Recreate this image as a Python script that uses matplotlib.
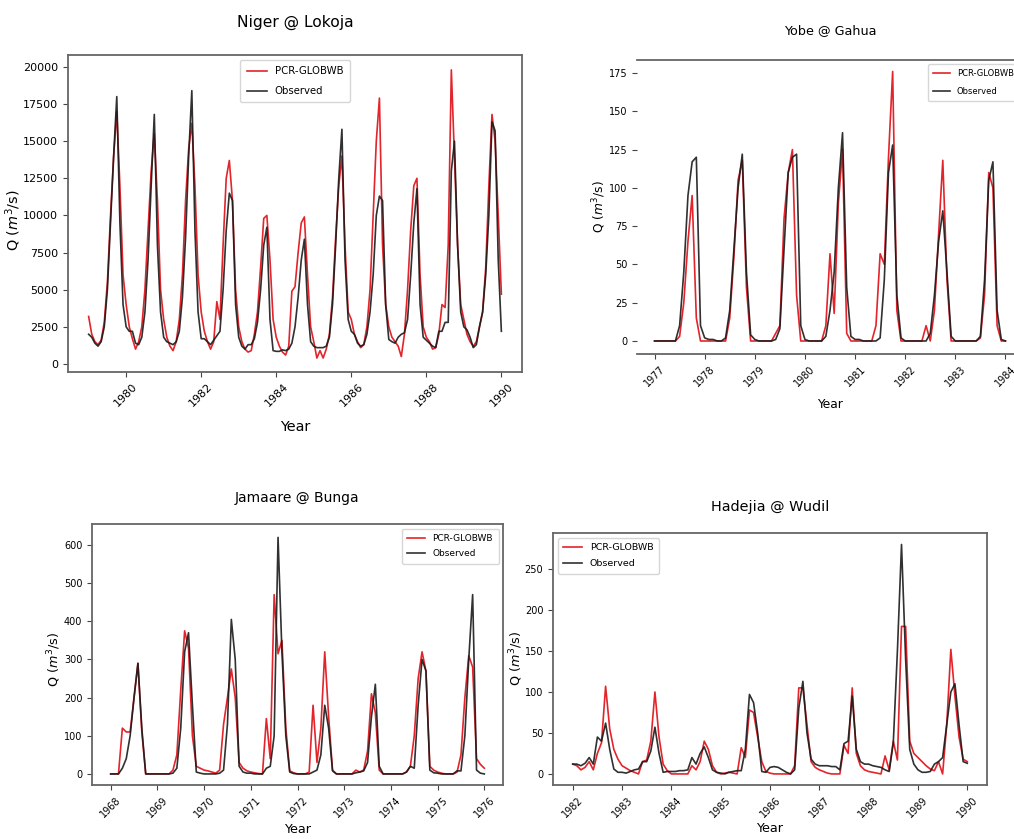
import numpy as np
import matplotlib
matplotlib.use('Agg')
import matplotlib.pyplot as plt
from matplotlib import font_manager

# monthly discharge, one row per year (Jan..Dec)
niger_start = 1979
niger_obs = [2000, 1800, 1400, 1200, 1500, 2500, 5000, 9500, 14000, 18000, 9500, 4000,
             2500, 2200, 2200, 1400, 1300, 1800, 3500, 7000, 12000, 16800, 8000, 3500,
             1800, 1500, 1400, 1300, 1500, 2200, 4500, 8500, 14000, 18400, 9000, 3500,
             1700, 1700, 1500, 1300, 1600, 1900, 2200, 5000, 9000, 11500, 11000, 4000,
             1800, 1200, 1000, 1300, 1300, 1700, 2800, 5000, 8000, 9200, 3000, 900,
             850, 850, 950, 900, 1000, 1400, 2500, 4500, 7000, 8400, 4000, 1500,
             1200, 1100, 1100, 1100, 1200, 1800, 4000, 8000, 12500, 15800, 7000, 3000,
             2200, 2000, 1400, 1200, 1300, 2000, 3500, 6000, 10000, 11300, 11000, 4000,
             1650, 1500, 1400, 1800, 2000, 2100, 3000, 6000, 9500, 11800, 4000, 1800,
             1600, 1400, 1200, 1100, 2200, 2200, 2800, 2800, 13000, 15000, 8000, 3500,
             2500, 2300, 1800, 1100, 1300, 2500, 3500, 6000, 10000, 16300, 15700, 7000,
             2200]
niger_sim = [3200, 2000, 1500, 1300, 1600, 2800, 5500, 10000, 14000, 17000, 12000, 6000,
             4000, 2500, 1700, 1000, 1500, 2500, 5000, 9000, 13000, 15500, 11000, 5000,
             3000, 1800, 1200, 900, 1500, 3000, 6000, 11000, 14500, 16200, 12000, 6000,
             3500, 2200, 1500, 1000, 1500, 4200, 3000, 8000, 12500, 13700, 11000, 5000,
             2500, 1500, 1000, 800, 900, 2000, 3500, 6500, 9800, 10000, 7000, 3000,
             1800, 1200, 800, 600, 1200, 4900, 5200, 7500, 9500, 9900, 6000, 2500,
             1500, 400, 900, 400, 1000, 2000, 4500, 8500, 12000, 14000, 8000, 3500,
             3000, 2000, 1500, 1100, 1300, 2500, 5000, 10000, 15000, 17900, 8000, 4000,
             2500, 1800, 1500, 1200, 500, 2000, 5000, 9000, 12000, 12500, 6000, 2500,
             1800, 1500, 1000, 1100, 2000, 4000, 3800, 8000, 19800, 14000, 8000, 4000,
             3000, 2000, 1500, 1200, 1500, 2500, 3500, 6500, 12000, 16800, 15000, 10000,
             4700]

yobe_start = 1977
yobe_obs = [0, 0, 0, 0, 0, 0, 10, 45, 95, 117, 120, 10,
            2, 1, 1, 0, 0, 2, 20, 60, 100, 122, 45, 4,
            1, 0, 0, 0, 0, 1, 8, 60, 110, 120, 122, 10,
            1, 0, 0, 0, 0, 3, 20, 45, 100, 136, 35, 3,
            1, 1, 0, 0, 0, 0, 2, 40, 110, 128, 30, 2,
            0, 0, 0, 0, 0, 0, 5, 30, 65, 85, 45, 3,
            0, 0, 0, 0, 0, 0, 3, 40, 105, 117, 20, 1,
            0]
yobe_sim = [0, 0, 0, 0, 0, 0, 3, 25, 65, 95, 15, 0,
            0, 0, 0, 0, 0, 0, 15, 55, 105, 118, 35, 0,
            0, 0, 0, 0, 0, 5, 10, 80, 110, 125, 30, 0,
            0, 0, 0, 0, 0, 10, 57, 18, 90, 125, 5, 0,
            0, 0, 0, 0, 0, 10, 57, 50, 120, 176, 20, 0,
            0, 0, 0, 0, 0, 10, 0, 20, 70, 118, 40, 0,
            0, 0, 0, 0, 0, 0, 2, 30, 110, 100, 10, 0,
            0]

jamaare_start = 1968
jamaare_obs = [0, 0, 0, 15, 40, 100, 200, 290, 120, 0, 0, 0,
               0, 0, 0, 0, 2, 15, 120, 320, 370, 180, 5, 2,
               0, 0, 0, 0, 2, 10, 130, 405, 300, 20, 5, 2,
               2, 0, 0, 0, 15, 20, 100, 620, 320, 100, 5, 1,
               0, 0, 0, 0, 5, 10, 50, 180, 120, 8, 0, 0,
               0, 0, 0, 3, 5, 8, 30, 150, 235, 20, 0, 0,
               0, 0, 0, 0, 5, 20, 15, 180, 300, 270, 10, 3,
               2, 0, 0, 0, 0, 8, 8, 100, 300, 470, 10, 2,
               0]
jamaare_sim = [0, 0, 0, 120, 110, 110, 200, 290, 110, 0, 0, 0,
               0, 0, 0, 0, 10, 50, 220, 375, 330, 100, 20, 15,
               10, 8, 5, 2, 10, 130, 200, 275, 200, 30, 15, 8,
               5, 3, 1, 0, 145, 40, 470, 315, 350, 120, 8, 3,
               0, 0, 0, 5, 180, 30, 120, 320, 150, 10, 0, 0,
               0, 0, 0, 10, 5, 10, 60, 210, 160, 10, 0, 0,
               0, 0, 0, 0, 5, 20, 100, 250, 320, 270, 20, 10,
               5, 2, 0, 0, 0, 5, 50, 200, 310, 280, 40, 25,
               15]

hadejia_start = 1982
hadejia_obs = [12, 12, 10, 13, 20, 12, 45, 40, 62, 30, 6, 2,
               2, 1, 3, 5, 6, 15, 15, 28, 57, 25, 2, 3,
               3, 3, 4, 4, 5, 20, 12, 25, 33, 20, 5, 2,
               1, 0, 2, 3, 4, 4, 30, 97, 87, 50, 3, 2,
               8, 9, 8, 5, 2, 0, 5, 80, 113, 50, 18, 12,
               10, 10, 10, 9, 9, 5, 37, 40, 95, 30, 15, 12,
               12, 10, 9, 8, 5, 3, 38, 150, 280, 140, 30, 12,
               5, 2, 2, 3, 12, 15, 20, 60, 100, 110, 60, 15,
               13]
hadejia_sim = [12, 10, 5, 8, 15, 5, 25, 38, 107, 55, 30, 18,
               10, 7, 4, 2, 0, 15, 17, 40, 100, 45, 12, 4,
               0, 0, 0, 0, 0, 10, 5, 15, 40, 30, 10, 2,
               0, 1, 2, 1, 0, 32, 20, 78, 75, 45, 15, 3,
               1, 0, 0, 0, 0, 0, 10, 105, 105, 60, 15, 8,
               5, 3, 1, 0, 0, 0, 35, 25, 105, 25, 10, 5,
               3, 2, 1, 0, 22, 5, 40, 17, 180, 180, 40, 25,
               20, 15, 10, 6, 4, 15, 0, 60, 152, 95, 45, 18,
               15]

# prefer a condensed face when the system has one
fonts = font_manager.fontManager.ttflist
names = {f.name for f in fonts}
fs = 0.8
if 'DejaVu Sans Condensed' in names:
    plt.rcParams['font.family'] = ['DejaVu Sans Condensed', 'DejaVu Sans']
    fs = 0.89
else:
    plt.rcParams['font.family'] = ['DejaVu Sans']

RED = '#e3242b'
W, H = 1014, 839
fig = plt.figure(figsize=(W / 100, H / 100), dpi=100)


def px_rect(left, top, right, bottom):
    return [left / W, 1 - bottom / H, (right - left) / W, (bottom - top) / H]


def panel(rect, title, start, obs, sim, ylim, yticks, xticks, legend_loc,
          title_size, label_size, tick_size, legend_size, spacing, pad,
          xlabel_y, ylabel_x, ylabel_y=0.5, hide_left=False):
    ax = fig.add_axes(rect)
    t = start + np.arange(len(obs)) / 12
    ax.plot(t, sim, color=RED, lw=1.2, label='PCR-GLOBWB')
    ax.plot(t, obs, color='#1a1a1a', lw=1.2, alpha=0.9, label='Observed')
    ax.set_xlim(t[0] - 0.05 * (t[-1] - t[0]), t[-1] + 0.05 * (t[-1] - t[0]))
    ax.set_ylim(*ylim)
    ax.set_yticks(yticks)
    ax.set_xticks(xticks)
    ax.set_xticklabels([str(x) for x in xticks], rotation=45)
    ax.tick_params(labelsize=tick_size * fs, color='#444444')
    for s in ax.spines.values():
        s.set_color('#666666')
        s.set_linewidth(1.3)
    if hide_left:
        ax.spines['left'].set_visible(False)
    ax.set_title(title, fontsize=title_size * fs, pad=pad)
    ax.set_xlabel('Year', fontsize=label_size * fs)
    ax.set_ylabel('Q ($m^3$/s)', fontsize=label_size * fs)
    ax.xaxis.set_label_coords(0.5, xlabel_y)
    ax.yaxis.set_label_coords(ylabel_x, ylabel_y)
    ax.legend(loc=legend_loc, fontsize=legend_size * fs,
              labelspacing=spacing, borderpad=0.6)
    return ax


panel(px_rect(68, 55, 522, 372), 'Niger @ Lokoja', niger_start, niger_obs, niger_sim,
      (-540, 20800), np.arange(0, 20001, 2500), list(range(1980, 1991, 2)), 'upper center',
      14, 13, 10, 9.1, 1.0, 20, -0.15, -0.1, 0.48)

panel(px_rect(637, 60, 1023, 354), 'Yobe @ Gahua', yobe_start, yobe_obs, yobe_sim,
      (-8.5, 183.5), np.arange(0, 176, 25), list(range(1977, 1985)), 'upper right',
      11.5, 11, 8.75, 7.5, 1.1, 19, -0.15, -0.075, 0.5, hide_left=True)

panel(px_rect(92, 524, 503, 785), 'Jamaare @ Bunga', jamaare_start, jamaare_obs, jamaare_sim,
      (-29, 655), np.arange(0, 601, 100), list(range(1968, 1977)), 'upper right',
      12.5, 11.5, 8.75, 8.1, 0.7, 16, -0.146, -0.07, 0.48)

panel(px_rect(553, 533, 987, 785), 'Hadejia @ Wudil', hadejia_start, hadejia_obs, hadejia_sim,
      (-13.5, 294), np.arange(0, 251, 50), list(range(1982, 1991)), 'upper left',
      13, 11.5, 8.75, 8.5, 0.7, 16, -0.147, -0.065, 0.5)

fig.savefig('out.png', dpi=100)
